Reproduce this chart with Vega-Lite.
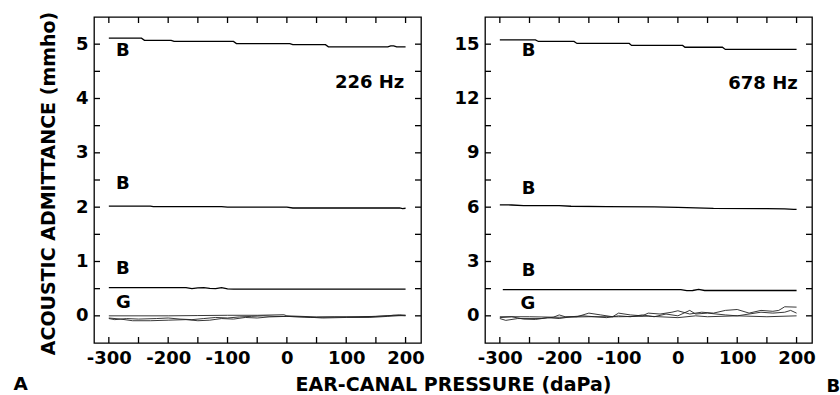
{
  "$schema": "https://vega.github.io/schema/vega-lite/v6.json",
  "background": "white",
  "padding": {"left": 12, "top": 10, "right": 0, "bottom": 0},
  "bounds": "flush",
  "spacing": 64,
  "config": {
    "view": {"stroke": "black", "strokeWidth": 1.3},
    "font": "DejaVu Sans",
    "axis": {
      "labelFont": "DejaVu Sans", "labelFontWeight": "bold", "labelFontSize": 18, "labelColor": "black",
      "titleFont": "DejaVu Sans", "titleFontWeight": "bold", "titleFontSize": 19, "titleColor": "black",
      "ticks": false, "tickSize": 0, "domain": false, "grid": false, "labelPadding": 6
    }
  },
  "datasets": {
    "xt": [{"v":-300},{"v":-250},{"v":-200},{"v":-150},{"v":-100},{"v":-50},{"v":0},{"v":50},{"v":100},{"v":150},{"v":200}],
    "ylt": [{"v":0},{"v":0.5},{"v":1},{"v":1.5},{"v":2},{"v":2.5},{"v":3},{"v":3.5},{"v":4},{"v":4.5},{"v":5}],
    "yrt": [{"v":0},{"v":1.5},{"v":3},{"v":4.5},{"v":6},{"v":7.5},{"v":9},{"v":10.5},{"v":12},{"v":13.5},{"v":15}],
    "lb": [
      {"s":"B5","x":-300,"y":5.11},{"s":"B5","x":-245,"y":5.11},{"s":"B5","x":-240,"y":5.07},{"s":"B5","x":-195,"y":5.07},{"s":"B5","x":-190,"y":5.05},{"s":"B5","x":-90,"y":5.05},{"s":"B5","x":-85,"y":5.01},{"s":"B5","x":5,"y":5.01},{"s":"B5","x":10,"y":4.99},{"s":"B5","x":65,"y":4.99},{"s":"B5","x":70,"y":4.95},{"s":"B5","x":170,"y":4.95},{"s":"B5","x":175,"y":4.97},{"s":"B5","x":180,"y":4.97},{"s":"B5","x":185,"y":4.95},{"s":"B5","x":200,"y":4.95},
      {"s":"B2","x":-300,"y":2.02},{"s":"B2","x":-230,"y":2.02},{"s":"B2","x":-225,"y":2.01},{"s":"B2","x":-110,"y":2.01},{"s":"B2","x":-100,"y":2.0},{"s":"B2","x":0,"y":2.0},{"s":"B2","x":10,"y":1.985},{"s":"B2","x":190,"y":1.985},{"s":"B2","x":195,"y":1.975},{"s":"B2","x":200,"y":1.98},
      {"s":"B05","x":-300,"y":0.52},{"s":"B05","x":-170,"y":0.52},{"s":"B05","x":-160,"y":0.5},{"s":"B05","x":-150,"y":0.515},{"s":"B05","x":-140,"y":0.52},{"s":"B05","x":-130,"y":0.505},{"s":"B05","x":-120,"y":0.5},{"s":"B05","x":-110,"y":0.52},{"s":"B05","x":-100,"y":0.495},{"s":"B05","x":-90,"y":0.49},{"s":"B05","x":200,"y":0.49}
    ],
    "lg": [
      {"s":"G1","x":-300,"y":0.0},{"s":"G1","x":-200,"y":0.0},{"s":"G1","x":-150,"y":0.005},{"s":"G1","x":-100,"y":0.01},{"s":"G1","x":-50,"y":0.01},{"s":"G1","x":-5,"y":0.02},{"s":"G1","x":0,"y":0.0},{"s":"G1","x":50,"y":-0.02},{"s":"G1","x":100,"y":-0.02},{"s":"G1","x":150,"y":-0.01},{"s":"G1","x":170,"y":0.0},{"s":"G1","x":190,"y":0.02},{"s":"G1","x":200,"y":0.01},
      {"s":"G2","x":-300,"y":-0.05},{"s":"G2","x":-290,"y":-0.07},{"s":"G2","x":-270,"y":-0.05},{"s":"G2","x":-250,"y":-0.06},{"s":"G2","x":-220,"y":-0.05},{"s":"G2","x":-200,"y":-0.04},{"s":"G2","x":-180,"y":-0.06},{"s":"G2","x":-160,"y":-0.07},{"s":"G2","x":-140,"y":-0.05},{"s":"G2","x":-120,"y":-0.03},{"s":"G2","x":-100,"y":-0.04},{"s":"G2","x":-80,"y":-0.02},{"s":"G2","x":-60,"y":-0.01},{"s":"G2","x":-40,"y":0.0},{"s":"G2","x":-20,"y":-0.01},{"s":"G2","x":0,"y":-0.01},{"s":"G2","x":40,"y":-0.03},{"s":"G2","x":80,"y":-0.02},{"s":"G2","x":120,"y":-0.02},{"s":"G2","x":150,"y":-0.01},{"s":"G2","x":180,"y":0.01},{"s":"G2","x":200,"y":0.0},
      {"s":"G3","x":-300,"y":-0.04},{"s":"G3","x":-280,"y":-0.06},{"s":"G3","x":-260,"y":-0.09},{"s":"G3","x":-230,"y":-0.09},{"s":"G3","x":-200,"y":-0.08},{"s":"G3","x":-170,"y":-0.07},{"s":"G3","x":-150,"y":-0.09},{"s":"G3","x":-130,"y":-0.08},{"s":"G3","x":-110,"y":-0.05},{"s":"G3","x":-90,"y":-0.06},{"s":"G3","x":-70,"y":-0.03},{"s":"G3","x":-50,"y":-0.04},{"s":"G3","x":-30,"y":-0.02},{"s":"G3","x":0,"y":-0.01},{"s":"G3","x":30,"y":-0.02},{"s":"G3","x":60,"y":-0.04},{"s":"G3","x":100,"y":-0.03},{"s":"G3","x":140,"y":-0.03},{"s":"G3","x":170,"y":-0.01},{"s":"G3","x":200,"y":0.01}
    ],
    "lt": [
      {"x":-288,"y":4.87,"t":"B"},{"x":-288,"y":2.42,"t":"B"},{"x":-288,"y":0.87,"t":"B"},{"x":-288,"y":0.23,"t":"G"},{"x":81,"y":4.29,"t":"226 Hz"}
    ],
    "rb": [
      {"s":"B15","x":-300,"y":15.24},{"s":"B15","x":-240,"y":15.24},{"s":"B15","x":-235,"y":15.15},{"s":"B15","x":-175,"y":15.15},{"s":"B15","x":-170,"y":15.04},{"s":"B15","x":-82,"y":15.04},{"s":"B15","x":-78,"y":14.93},{"s":"B15","x":8,"y":14.93},{"s":"B15","x":12,"y":14.83},{"s":"B15","x":75,"y":14.83},{"s":"B15","x":80,"y":14.71},{"s":"B15","x":200,"y":14.71},
      {"s":"B6","x":-300,"y":6.13},{"s":"B6","x":-280,"y":6.12},{"s":"B6","x":-260,"y":6.09},{"s":"B6","x":-200,"y":6.08},{"s":"B6","x":-180,"y":6.05},{"s":"B6","x":-120,"y":6.03},{"s":"B6","x":-40,"y":6.02},{"s":"B6","x":0,"y":5.99},{"s":"B6","x":30,"y":5.96},{"s":"B6","x":60,"y":5.93},{"s":"B6","x":150,"y":5.92},{"s":"B6","x":180,"y":5.91},{"s":"B6","x":195,"y":5.88},{"s":"B6","x":200,"y":5.88},
      {"s":"B1","x":-295,"y":1.45},{"s":"B1","x":5,"y":1.45},{"s":"B1","x":15,"y":1.39},{"s":"B1","x":25,"y":1.4},{"s":"B1","x":35,"y":1.46},{"s":"B1","x":45,"y":1.4},{"s":"B1","x":200,"y":1.4}
    ],
    "rg": [
      {"s":"Ga","x":-300,"y":-0.15},{"s":"Ga","x":-290,"y":-0.25},{"s":"Ga","x":-270,"y":-0.15},{"s":"Ga","x":-230,"y":-0.15},{"s":"Ga","x":-210,"y":-0.08},{"s":"Ga","x":-200,"y":0.05},{"s":"Ga","x":-190,"y":-0.05},{"s":"Ga","x":-170,"y":-0.05},{"s":"Ga","x":-150,"y":0.15},{"s":"Ga","x":-130,"y":0.05},{"s":"Ga","x":-110,"y":-0.05},{"s":"Ga","x":-100,"y":0.15},{"s":"Ga","x":-80,"y":0.05},{"s":"Ga","x":-60,"y":0.0},{"s":"Ga","x":-50,"y":0.15},{"s":"Ga","x":-30,"y":0.1},{"s":"Ga","x":-10,"y":0.2},{"s":"Ga","x":0,"y":0.28},{"s":"Ga","x":20,"y":0.1},{"s":"Ga","x":40,"y":0.2},{"s":"Ga","x":60,"y":0.15},{"s":"Ga","x":80,"y":0.3},{"s":"Ga","x":100,"y":0.35},{"s":"Ga","x":120,"y":0.15},{"s":"Ga","x":140,"y":0.3},{"s":"Ga","x":160,"y":0.25},{"s":"Ga","x":170,"y":0.3},{"s":"Ga","x":180,"y":0.5},{"s":"Ga","x":200,"y":0.48},
      {"s":"Gb","x":-300,"y":-0.1},{"s":"Gb","x":-280,"y":-0.05},{"s":"Gb","x":-260,"y":-0.18},{"s":"Gb","x":-240,"y":-0.2},{"s":"Gb","x":-220,"y":-0.1},{"s":"Gb","x":-200,"y":-0.15},{"s":"Gb","x":-180,"y":-0.05},{"s":"Gb","x":-160,"y":0.0},{"s":"Gb","x":-140,"y":-0.05},{"s":"Gb","x":-120,"y":-0.1},{"s":"Gb","x":-100,"y":0.0},{"s":"Gb","x":-80,"y":-0.05},{"s":"Gb","x":-60,"y":0.05},{"s":"Gb","x":-40,"y":-0.05},{"s":"Gb","x":-20,"y":0.1},{"s":"Gb","x":0,"y":0.0},{"s":"Gb","x":20,"y":0.3},{"s":"Gb","x":30,"y":0.1},{"s":"Gb","x":50,"y":0.15},{"s":"Gb","x":80,"y":0.05},{"s":"Gb","x":100,"y":0.0},{"s":"Gb","x":120,"y":0.1},{"s":"Gb","x":140,"y":0.2},{"s":"Gb","x":160,"y":0.15},{"s":"Gb","x":180,"y":0.2},{"s":"Gb","x":190,"y":0.3},{"s":"Gb","x":200,"y":0.15},
      {"s":"Gc","x":-300,"y":-0.05},{"s":"Gc","x":-250,"y":-0.05},{"s":"Gc","x":-200,"y":-0.08},{"s":"Gc","x":-150,"y":-0.05},{"s":"Gc","x":-100,"y":-0.05},{"s":"Gc","x":-50,"y":-0.02},{"s":"Gc","x":0,"y":-0.1},{"s":"Gc","x":30,"y":0.0},{"s":"Gc","x":50,"y":-0.05},{"s":"Gc","x":100,"y":0.0},{"s":"Gc","x":150,"y":-0.05},{"s":"Gc","x":200,"y":0.0}
    ],
    "rt": [
      {"x":-263,"y":14.65,"t":"B"},{"x":-263,"y":7.0,"t":"B"},{"x":-263,"y":2.45,"t":"B"},{"x":-265,"y":0.66,"t":"G"},{"x":85,"y":12.79,"t":"678 Hz"}
    ]
  },
  "hconcat": [
    {
      "width": 327, "height": 326,
      "resolve": {"axis": {"x": "independent", "y": "independent"}},
      "layer": [
        {
          "data": {"name": "lb"},
          "mark": {"type": "line", "color": "black", "strokeWidth": 1.3},
          "encoding": {
            "x": {"field": "x", "type": "quantitative", "scale": {"domain": [-325, 226], "nice": false, "zero": false},
              "axis": {"orient": "bottom", "values": [-300,-200,-100,0,100,200], "labelExpr": "'' + datum.value",
                "title": "A", "titleX": -81, "titleY": 46, "titleAlign": "left", "titleBaseline": "alphabetic", "titleFontSize": 18.5}},
            "y": {"field": "y", "type": "quantitative", "scale": {"domain": [-0.5, 5.5], "nice": false, "zero": false},
              "axis": {"orient": "left", "values": [0,1,2,3,4,5], "labelExpr": "'' + datum.value",
                "title": "ACOUSTIC ADMITTANCE (mmho)", "titlePadding": 17, "titleY": 166}},
            "detail": {"field": "s"}
          }
        },
        {
          "data": {"name": "lg"},
          "mark": {"type": "line", "color": "#222", "strokeWidth": 0.9},
          "encoding": {
            "x": {"field": "x", "type": "quantitative", "scale": {"domain": [-325, 226], "nice": false, "zero": false}, "axis": null},
            "y": {"field": "y", "type": "quantitative", "scale": {"domain": [-0.5, 5.5], "nice": false, "zero": false}, "axis": null},
            "detail": {"field": "s"}
          }
        },
        {
          "data": {"name": "xt"},
          "layer": [
            {"mark": {"type": "tick", "orient": "vertical", "size": 12, "thickness": 1.3, "color": "black", "opacity": 1, "clip": true},
             "encoding": {"x": {"field": "v", "type": "quantitative", "axis": null}, "y": {"datum": -0.5, "type": "quantitative", "axis": null}}},
            {"mark": {"type": "tick", "orient": "vertical", "size": 12, "thickness": 1.3, "color": "black", "opacity": 1, "clip": true},
             "encoding": {"x": {"field": "v", "type": "quantitative", "axis": null}, "y": {"datum": 5.5, "type": "quantitative", "axis": null}}}
          ]
        },
        {
          "data": {"name": "ylt"},
          "layer": [
            {"mark": {"type": "tick", "orient": "horizontal", "size": 12, "thickness": 1.3, "color": "black", "opacity": 1, "clip": true},
             "encoding": {"y": {"field": "v", "type": "quantitative", "axis": null}, "x": {"datum": -325, "type": "quantitative", "axis": null}}},
            {"mark": {"type": "tick", "orient": "horizontal", "size": 12, "thickness": 1.3, "color": "black", "opacity": 1, "clip": true},
             "encoding": {"y": {"field": "v", "type": "quantitative", "axis": null}, "x": {"datum": 226, "type": "quantitative", "axis": null}}}
          ]
        },
        {
          "data": {"name": "lt"},
          "mark": {"type": "text", "align": "left", "baseline": "middle", "font": "DejaVu Sans", "fontWeight": "bold", "fontSize": 18, "color": "black"},
          "encoding": {
            "x": {"field": "x", "type": "quantitative", "axis": null},
            "y": {"field": "y", "type": "quantitative", "axis": null},
            "text": {"field": "t"}
          }
        }
      ]
    },
    {
      "width": 327, "height": 326,
      "resolve": {"axis": {"x": "independent", "y": "independent"}},
      "layer": [
        {
          "data": {"name": "rb"},
          "mark": {"type": "line", "color": "black", "strokeWidth": 1.3},
          "encoding": {
            "x": {"field": "x", "type": "quantitative", "scale": {"domain": [-325, 226], "nice": false, "zero": false},
              "axis": {"orient": "bottom", "values": [-300,-200,-100,0,100,200], "labelExpr": "'' + datum.value",
                "title": "EAR-CANAL PRESSURE (daPa)", "titleX": -32, "titleY": 47, "titleAlign": "center", "titleBaseline": "alphabetic"}},
            "y": {"field": "y", "type": "quantitative", "scale": {"domain": [-1.5, 16.5], "nice": false, "zero": false},
              "axis": {"orient": "left", "values": [0,3,6,9,12,15], "labelExpr": "'' + datum.value", "title": null}},
            "detail": {"field": "s"}
          }
        },
        {
          "data": {"name": "rg"},
          "mark": {"type": "line", "color": "#222", "strokeWidth": 0.9},
          "encoding": {
            "x": {"field": "x", "type": "quantitative", "scale": {"domain": [-325, 226], "nice": false, "zero": false}, "axis": null},
            "y": {"field": "y", "type": "quantitative", "scale": {"domain": [-1.5, 16.5], "nice": false, "zero": false}, "axis": null},
            "detail": {"field": "s"}
          }
        },
        {
          "data": {"name": "xt"},
          "layer": [
            {"mark": {"type": "tick", "orient": "vertical", "size": 12, "thickness": 1.3, "color": "black", "opacity": 1, "clip": true},
             "encoding": {"x": {"field": "v", "type": "quantitative", "axis": null}, "y": {"datum": -1.5, "type": "quantitative", "axis": null}}},
            {"mark": {"type": "tick", "orient": "vertical", "size": 12, "thickness": 1.3, "color": "black", "opacity": 1, "clip": true},
             "encoding": {"x": {"field": "v", "type": "quantitative", "axis": null}, "y": {"datum": 16.5, "type": "quantitative", "axis": null}}}
          ]
        },
        {
          "data": {"name": "yrt"},
          "layer": [
            {"mark": {"type": "tick", "orient": "horizontal", "size": 12, "thickness": 1.3, "color": "black", "opacity": 1, "clip": true},
             "encoding": {"y": {"field": "v", "type": "quantitative", "axis": null}, "x": {"datum": -325, "type": "quantitative", "axis": null}}},
            {"mark": {"type": "tick", "orient": "horizontal", "size": 12, "thickness": 1.3, "color": "black", "opacity": 1, "clip": true},
             "encoding": {"y": {"field": "v", "type": "quantitative", "axis": null}, "x": {"datum": 226, "type": "quantitative", "axis": null}}}
          ]
        },
        {
          "data": {"name": "rt"},
          "mark": {"type": "text", "align": "left", "baseline": "middle", "font": "DejaVu Sans", "fontWeight": "bold", "fontSize": 18, "color": "black"},
          "encoding": {
            "x": {"field": "x", "type": "quantitative", "axis": null},
            "y": {"field": "y", "type": "quantitative",
              "axis": {"orient": "right", "values": [0], "labels": false, "title": "B", "titleAngle": 0, "titleX": 14, "titleY": 374, "titleAlign": "left", "titleBaseline": "alphabetic", "titleFontSize": 18}},
            "text": {"field": "t"}
          }
        }
      ]
    }
  ]
}
